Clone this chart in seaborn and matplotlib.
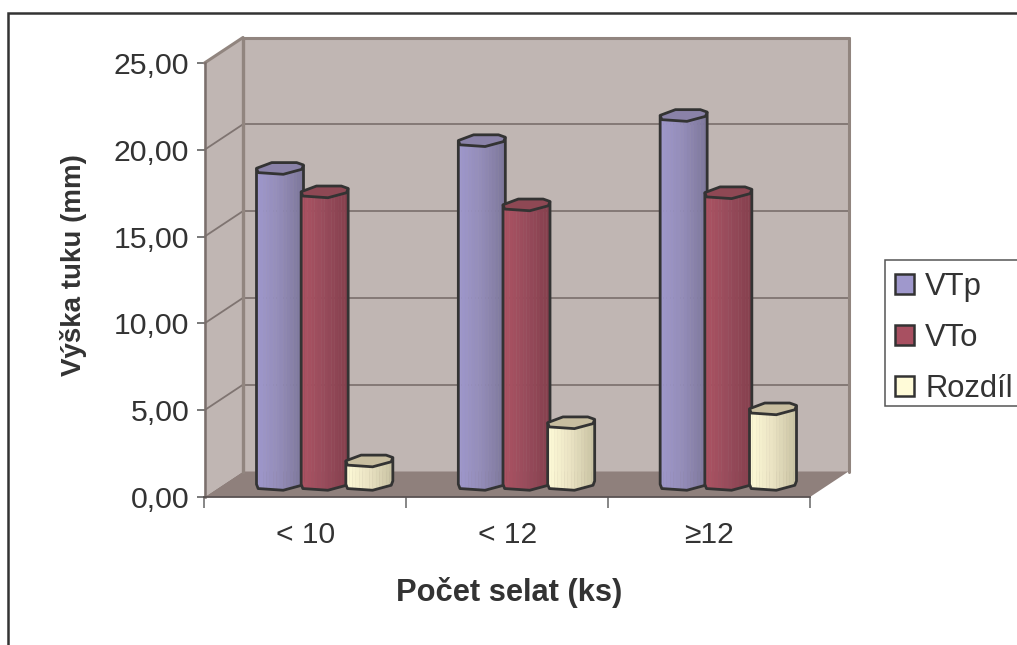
import numpy as np
import pandas as pd
import matplotlib
matplotlib.use("Agg")
import matplotlib.pyplot as plt
from matplotlib.patches import Polygon, Patch, Rectangle
from matplotlib.lines import Line2D
from matplotlib.colors import to_rgb
import seaborn as sns

# ---- data -------------------------------------------------------------
categories = ["< 10", "< 12", "≥12"]
series_names = ["VTp", "VTo", "Rozdíl"]
vtp = [18.2, 19.8, 21.25]
vto = [16.85, 16.1, 16.8]
rozdil = [1.35, 3.55, 4.35]
y_ticks = [0, 5, 10, 15, 20, 25]
y_tick_labels = ["0,00", "5,00", "10,00", "15,00", "20,00", "25,00"]

face_colors = ["#9F98CC", "#A85061", "#FFFBD8"]
ramp_colors = [
    ["#9F98CC", "#938CB8", "#7C7699"],
    ["#AC5263", "#974B5B", "#853F4D"],
    ["#FFFBD8", "#E9E2C2", "#C8C2A2"],
]
cap_colors = ["#8A82A8", "#8E4854", "#C8BEA0"]

WALL = "#C0B6B3"
FLOOR = "#8F807C"
WALL_EDGE = "#91857F"
GRID = "#7F7471"
INK = "#333333"

# ---- layout (pixels) ---------------------------------------------------
W, H = 1017, 645
LEFT, RIGHT, BASE, TOP = 204.5, 810.0, 497.0, 63.0
DEPTH_X, DEPTH_Y = 38.5, 25.5
BAR_HALF = 23.5

sns.set_style("white")
plt.rcParams["font.family"] = ["Liberation Sans", "DejaVu Sans"]
plt.rcParams["text.color"] = INK

fig = plt.figure(figsize=(W / 100, H / 100), dpi=100, facecolor="white")
ax = fig.add_axes([LEFT / W, 1 - BASE / H, (RIGHT - LEFT) / W, (BASE - TOP) / H])
ax.patch.set_alpha(0)

df = pd.DataFrame({
    "cat": np.tile(categories, 3),
    "series": np.repeat(series_names, 3),
    "value": np.concatenate([vtp, vto, rozdil]),
})
sns.barplot(data=df, x="cat", y="value", hue="series", order=categories,
            hue_order=series_names, palette=face_colors, width=0.664, gap=0,
            legend=False, ax=ax)
ax.set_xlim(-0.5, 2.5)
ax.set_ylim(0, 25)

# pixel sizes expressed in data units
sx = 3.0 / (RIGHT - LEFT)
sy = 25.0 / (BASE - TOP)
dx, dy = DEPTH_X * sx, DEPTH_Y * sy
x0, x1 = -0.5, 2.5


def wall(points, color, z=0.5):
    ax.add_patch(Polygon(points, closed=True, facecolor=color, edgecolor=color,
                         linewidth=0, clip_on=False, zorder=z))


# side wall, back wall and floor of the chart box
wall([(x0 + dx, dy), (x1 + dx, dy), (x1 + dx, 25 + dy), (x0 + dx, 25 + dy)], WALL)
wall([(x0, 0), (x0 + dx, dy), (x0 + dx, 25 + dy), (x0, 25)], WALL)
wall([(x0, 0), (x1, 0), (x1 + dx, dy), (x0 + dx, dy)], FLOOR)

for v in y_ticks[1:]:
    ax.plot([x0 + dx, x1 + dx], [v + dy, v + dy], color=GRID, lw=1.3, zorder=0.7, clip_on=False)
    ax.plot([x0, x0 + dx], [v, v + dy], color=GRID if v < 25 else WALL_EDGE,
            lw=1.3 if v < 25 else 2.2, zorder=0.7, clip_on=False)
ax.plot([x0 + dx, x0 + dx], [dy, 25 + dy], color=WALL_EDGE, lw=2.4, zorder=0.8, clip_on=False)
ax.plot([x1 + dx, x1 + dx], [dy, 25 + dy], color=WALL_EDGE, lw=2.2, zorder=0.8, clip_on=False)
ax.plot([x0 + dx, x1 + dx], [25 + dy, 25 + dy], color=WALL_EDGE, lw=2.2, zorder=0.8, clip_on=False)

# octagonal outline of a bar: normalised x, vertical pixel offset (down is positive)
front_x = np.array([-1.0, -0.93, 0.14, 0.93, 1.0])
front_y = np.array([0.0, 4.3, 6.0, 1.0, -3.3])
back_x = np.array([1.0, 0.71, -0.35, -1.0])
back_y = np.array([-3.3, -5.7, -5.7, 0.0])


def ramp(colors, t):
    stops = np.array([to_rgb(c) for c in colors])
    return tuple(np.interp(t, [0, 0.5, 1], stops[:, k]) for k in range(3))


def draw_cylinder(rect, colors, cap, z):
    cx = rect.get_x() + rect.get_width() / 2 + dx / 2
    top = rect.get_height() + dy / 2
    base = dy / 2
    hw = BAR_HALF * sx
    edges = np.linspace(-1, 1, 15)
    for i, (a, b) in enumerate(zip(edges[:-1], edges[1:])):
        oa = np.interp(a, front_x, front_y) * sy
        ob = np.interp(b, front_x, front_y) * sy
        shade = ramp(colors, (i + 0.5) / 14)
        ax.add_patch(Polygon(
            [(cx + a * hw, top - oa), (cx + b * hw, top - ob),
             (cx + b * hw, base - ob), (cx + a * hw, base - oa)],
            closed=True, facecolor=shade, edgecolor=shade, linewidth=0.3,
            clip_on=False, zorder=z))
    cap_pts = [(cx + u * hw, top - v * sy) for u, v in zip(front_x, front_y)]
    cap_pts += [(cx + u * hw, top - v * sy) for u, v in zip(back_x[1:], back_y[1:])]
    ax.add_patch(Polygon(cap_pts, closed=True, facecolor=cap, edgecolor=INK, linewidth=2.0,
                         clip_on=False, zorder=z + 0.02, joinstyle="round"))
    low = [(cx + u * hw, base - v * sy) for u, v in zip(front_x, front_y)]
    outline = [(cx - hw, top)] + low + [(cx + hw, top - back_y[0] * sy)]
    ax.add_patch(Polygon(outline, closed=False, fill=False, edgecolor=INK, linewidth=2.0,
                         clip_on=False, zorder=z + 0.01, joinstyle="round"))


# later series overlap the earlier ones within a group
for s, container in enumerate(ax.containers):
    for rect in container:
        rect.set_visible(False)
        draw_cylinder(rect, ramp_colors[s], cap_colors[s], 3 + 0.1 * s)

# ---- axes furniture ----------------------------------------------------
sns.despine(ax=ax, top=True, right=True)
ax.spines["left"].set_color("#7A6F6C")
ax.spines["left"].set_linewidth(1.8)
ax.spines["bottom"].set_color("#595252")
ax.spines["bottom"].set_linewidth(1.3)
ax.spines["left"].set_zorder(1)
ax.spines["bottom"].set_zorder(1)

ax.set_yticks(y_ticks)
ax.set_yticklabels(y_tick_labels, fontsize=21.8, color=INK)
ax.tick_params(axis="y", length=6, width=1.1, color="#555555", pad=5, left=True)

ax.set_xticks([x0, 0.5, 1.5, x1])
ax.set_xticklabels([])
ax.set_xticks([0, 1, 2], labels=categories, minor=True)
ax.tick_params(axis="x", which="major", length=8, width=1.1, color="#666666", bottom=True)
ax.tick_params(axis="x", which="minor", length=0, labelsize=21.6, labelcolor=INK, pad=17)

ax.set_xlabel("Počet selat (ks)", fontsize=22.2, fontweight="bold", color=INK)
ax.xaxis.set_label_coords((509 - LEFT) / (RIGHT - LEFT), -(577 - BASE) / (BASE - TOP))
ax.set_ylabel("Výška tuku (mm)", fontsize=20.0, fontweight="bold", color=INK)
ax.yaxis.set_label_coords(-(LEFT - 87) / (RIGHT - LEFT), (BASE - 265) / (BASE - TOP))

# legend box runs off the right-hand side of the figure
fig.add_artist(Rectangle((885 / W, 1 - 406 / H), 200 / W, 146 / H, transform=fig.transFigure,
                         facecolor="white", edgecolor="#555555", linewidth=1.1, zorder=-1))
handles = [Patch(facecolor=c, edgecolor=INK, linewidth=1.8) for c in face_colors]
leg = ax.legend(handles, series_names, loc="upper left",
                bbox_to_anchor=(895 / W, 1 - 272 / H), bbox_transform=fig.transFigure,
                borderaxespad=0, fontsize=22.3, frameon=False, borderpad=0,
                handlelength=0.62, handleheight=0.62, handletextpad=0.36,
                labelspacing=0.68)
for t in leg.get_texts():
    t.set_color(INK)

# outer chart border, open at the right and bottom
fig.add_artist(Line2D([8 / W, 8 / W, 1], [0, 1 - 13 / H, 1 - 13 / H],
                      transform=fig.transFigure, color=INK, lw=1.8,
                      solid_joinstyle="miter"))

fig.savefig("out.png", dpi=100)
